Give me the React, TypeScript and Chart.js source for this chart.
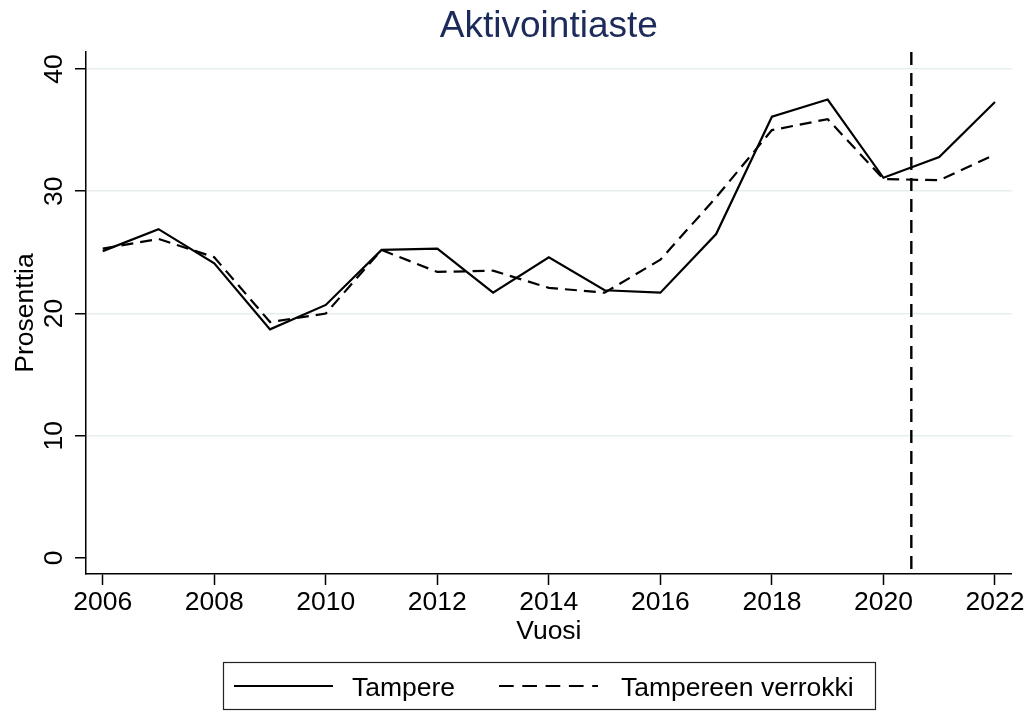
import React, { useEffect, useRef } from "react";
import { Chart, registerables } from "chart.js";

Chart.register(...registerables);

const FONT = "'Liberation Sans', Arial, Helvetica, sans-serif";

const years = [2006, 2007, 2008, 2009, 2010, 2011, 2012, 2013, 2014, 2015, 2016, 2017, 2018, 2019, 2020, 2021, 2022];
const tampere = [25.1, 26.9, 24.1, 18.7, 20.7, 25.2, 25.3, 21.7, 24.6, 21.9, 21.7, 26.5, 36.1, 37.5, 31.1, 32.8, 37.3];
const verrokki = [25.3, 26.1, 24.6, 19.3, 20.0, 25.2, 23.4, 23.5, 22.1, 21.7, 24.4, 29.5, 35.0, 35.9, 31.0, 30.9, 33.0];
const xTicks = [2006, 2008, 2010, 2012, 2014, 2016, 2018, 2020, 2022];
const yTicks = [0, 10, 20, 30, 40];
const CUTOFF = 2020.5;
const TITLE = "Aktivointiaste";
const Y_TITLE = "Prosenttia";
const X_TITLE = "Vuosi";
const SERIES_NAMES = ["Tampere", "Tampereen verrokki"];

const X_MIN = 2005.7;
const X_MAX = 2022.3;
const Y_MIN = -1.31;
const Y_MAX = 41.39;

const overlay = {
  id: "overlay",
  afterDatasetsDraw(chart: any) {
    const { ctx, chartArea, scales } = chart;
    const x = scales.x.getPixelForValue(CUTOFF);
    ctx.save();
    ctx.strokeStyle = "#000";
    ctx.lineWidth = 2.4;
    ctx.setLineDash([13, 8]);
    ctx.beginPath();
    ctx.moveTo(x, chartArea.top);
    ctx.lineTo(x, chartArea.bottom);
    ctx.stroke();
    ctx.restore();
  },
  afterDraw(chart: any) {
    const { ctx, chartArea, scales } = chart;
    ctx.save();
    // title
    ctx.fillStyle = "#1c2b5a";
    ctx.font = `37px ${FONT}`;
    ctx.textAlign = "center";
    ctx.textBaseline = "alphabetic";
    ctx.fillText(TITLE, (chartArea.left + chartArea.right) / 2, 36.5);

    // y tick labels (rotated)
    ctx.fillStyle = "#000";
    ctx.font = `26.5px ${FONT}`;
    for (const t of scales.y.ticks) {
      const py = scales.y.getPixelForValue(t.value);
      ctx.save();
      ctx.translate(62, py);
      ctx.rotate(-Math.PI / 2);
      ctx.textAlign = "center";
      ctx.fillText(String(t.value), 0, 0);
      ctx.restore();
    }
    // y title
    ctx.save();
    ctx.translate(33, (chartArea.top + chartArea.bottom) / 2);
    ctx.rotate(-Math.PI / 2);
    ctx.textAlign = "center";
    ctx.fillText(Y_TITLE, 0, 0);
    ctx.restore();
    // x title
    ctx.textAlign = "center";
    ctx.fillText(X_TITLE, (chartArea.left + chartArea.right) / 2, 638.5);

    // legend
    ctx.strokeStyle = "#222";
    ctx.lineWidth = 1.2;
    ctx.strokeRect(223.5, 662.5, 652, 47);
    ctx.lineWidth = 2.2;
    ctx.strokeStyle = "#000";
    ctx.beginPath();
    ctx.moveTo(234, 686);
    ctx.lineTo(333, 686);
    ctx.stroke();
    ctx.setLineDash([14.7, 8.6]);
    ctx.beginPath();
    ctx.moveTo(499, 686);
    ctx.lineTo(598, 686);
    ctx.stroke();
    ctx.setLineDash([]);
    ctx.textAlign = "left";
    ctx.fillText(SERIES_NAMES[0], 352, 696);
    ctx.fillText(SERIES_NAMES[1], 621, 696);
    ctx.restore();
  },
};

export default function App() {
  const ref = useRef<HTMLCanvasElement | null>(null);
  useEffect(() => {
    document.body.style.margin = "0";
    const canvas = ref.current!;
    const chart = new Chart(canvas, {
      type: "line",
      data: {
        datasets: [
          {
            label: SERIES_NAMES[0],
            data: years.map((y, i) => ({ x: y, y: tampere[i] })),
            borderColor: "#000",
            borderWidth: 2.2,
            pointRadius: 0,
            tension: 0,
            fill: false,
          },
          {
            label: SERIES_NAMES[1],
            data: years.map((y, i) => ({ x: y, y: verrokki[i] })),
            borderColor: "#000",
            borderWidth: 2.2,
            borderDash: [12, 7],
            pointRadius: 0,
            tension: 0,
            fill: false,
          },
        ],
      },
      options: {
        animation: false,
        responsive: false,
        devicePixelRatio: 1,
        layout: { autoPadding: false, padding: { top: 52, right: 21.3, bottom: 0, left: 0 } },
        plugins: { legend: { display: false }, title: { display: false }, tooltip: { enabled: false } },
        scales: {
          x: {
            type: "linear",
            min: X_MIN,
            max: X_MAX,
            afterBuildTicks: (s: any) => {
              s.ticks = xTicks.map((v) => ({ value: v }));
            },
            afterFit: (s: any) => {
              s.height = 137;
            },
            ticks: {
              color: "#000",
              font: { size: 26.5, family: FONT },
              padding: 2,
              maxRotation: 0,
              minRotation: 0,
              autoSkip: false,
              callback: (v: any) => String(v),
            },
            grid: { drawOnChartArea: false, drawTicks: true, tickLength: 11, tickColor: "#000", tickWidth: 1.5 },
            border: { color: "#000", width: 1.5 },
          },
          y: {
            type: "linear",
            min: Y_MIN,
            max: Y_MAX,
            afterBuildTicks: (s: any) => {
              s.ticks = yTicks.map((v) => ({ value: v }));
            },
            afterFit: (s: any) => {
              s.width = 86;
            },
            ticks: { display: false },
            grid: {
              color: (c: any) => (c.tick && c.tick.value === 0 ? "rgba(0,0,0,0)" : "#e6eef0"),
              lineWidth: 1.5,
              drawTicks: true,
              tickLength: 11,
              tickColor: "#000",
              tickWidth: 1.5,
            },
            border: { color: "#000", width: 1.5 },
          },
        },
      },
      plugins: [overlay],
    });
    return () => chart.destroy();
  }, []);
  return (
    <div style={{ width: 1033, height: 711, background: "#fff" }}>
      <canvas ref={ref} width={1033} height={711} style={{ display: "block" }} />
    </div>
  );
}
